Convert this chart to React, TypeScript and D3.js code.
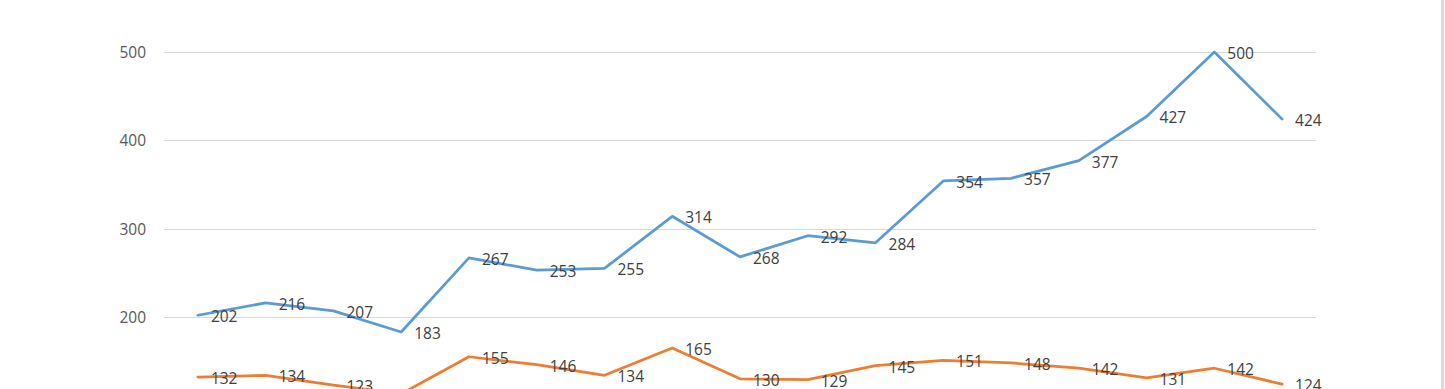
import { useEffect, useRef } from "react";
import * as d3 from "d3";

const W = 1445;
const H = 389;

// 17 periods, the category axis itself is cropped out of the picture
const periods = d3.range(1, 18).map((i) => `P${i}`);

const seriesA = [202, 216, 207, 183, 267, 253, 255, 314, 268, 292, 284, 354, 357, 377, 427, 500, 424];
// 4th value sits below the visible area; estimated from the line's slope
const seriesB = [132, 134, 123, 113, 155, 146, 134, 165, 130, 129, 145, 151, 148, 142, 131, 142, 124];

const yTicks = [0, 100, 200, 300, 400, 500];

const SERIES = [
  { name: "A", values: seriesA, color: "#5B9BD5" },
  { name: "B", values: seriesB, color: "#ED7D31" },
];

const FONT = "'Open Sans', 'Liberation Sans', sans-serif";

export default function App() {
  const svgRef = useRef<SVGSVGElement>(null);

  useEffect(() => {
    const svg = d3.select(svgRef.current);
    svg.selectAll("*").remove();

    const x = d3.scaleBand<string>().domain(periods).range([164, 1316]);
    const y = d3.scaleLinear().domain([200, 500]).range([317, 52]);
    const cx = (i: number) => (x(periods[i]) ?? 0) + x.bandwidth() / 2;

    // gridlines
    svg.append("g")
      .selectAll("line")
      .data(yTicks)
      .join("line")
      .attr("x1", 164)
      .attr("x2", 1316)
      .attr("y1", (d) => Math.round(y(d)) + 0.5)
      .attr("y2", (d) => Math.round(y(d)) + 0.5)
      .attr("stroke", "#d9d9d9")
      .attr("stroke-width", 1);

    // y tick labels
    svg.append("g")
      .selectAll("text")
      .data(yTicks)
      .join("text")
      .attr("x", 146)
      .attr("y", (d) => y(d))
      .attr("text-anchor", "end")
      .attr("dominant-baseline", "central")
      .attr("fill", "#595959")
      .attr("font-family", FONT)
      .attr("font-size", "15.5px")
      .text((d) => d);

    const line = d3.line<number>()
      .x((_, i) => cx(i))
      .y((v) => y(v));

    SERIES.forEach((s) => {
      svg.append("path")
        .attr("d", line(s.values) ?? "")
        .attr("fill", "none")
        .attr("stroke", s.color)
        .attr("stroke-width", 2.75)
        .attr("stroke-linejoin", "round")
        .attr("stroke-linecap", "round");
    });

    // data labels, right of each point
    SERIES.forEach((s) => {
      svg.append("g")
        .selectAll("text")
        .data(s.values)
        .join("text")
        .attr("x", (_, i) => cx(i) + 13)
        .attr("y", (v) => y(v) + 1)
        .attr("dominant-baseline", "central")
        .attr("fill", "#404040")
        .attr("font-family", FONT)
        .attr("font-size", "15.5px")
        .text((v) => v);
    });

    // right edge border of the chart frame
    svg.append("rect")
      .attr("x", 1441)
      .attr("y", 0)
      .attr("width", 3)
      .attr("height", H)
      .attr("fill", "#d9d9d9");
  }, []);

  return (
    <svg
      ref={svgRef}
      width={W}
      height={H}
      style={{ position: "absolute", left: 0, top: 0, background: "#fff" }}
    />
  );
}
